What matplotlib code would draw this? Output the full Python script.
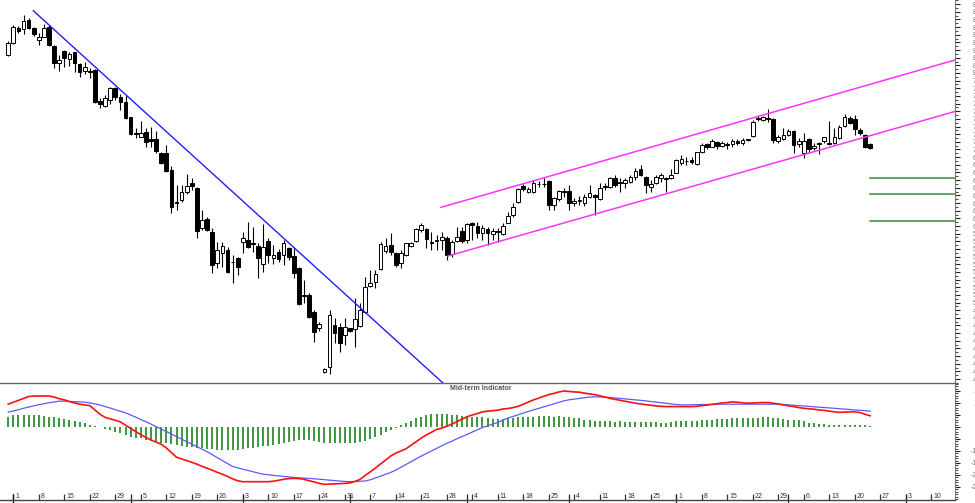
import numpy as np
import pandas as pd
import matplotlib
matplotlib.use('Agg')
import matplotlib.pyplot as plt
import matplotlib.transforms as mtransforms
from matplotlib.ticker import MultipleLocator

plt.rcParams['font.family'] = ['Liberation Sans', 'DejaVu Sans']

# trading days shown on the axis (candles use the first 170)
dates = pd.bdate_range('2018-09-28', '2019-06-14')

opens = [82.35, 83.88, 85.88, 85.71, 86.93, 85.84, 84.27, 84.74, 85.97, 83.57,
         81.35, 82.87, 81.83, 82.70, 81.14, 80.30, 80.26, 80.39, 76.34, 75.69,
         76.47, 78.00, 76.90, 76.25, 74.21, 72.20, 71.67, 72.33, 71.33, 71.37,
         69.58, 69.58, 67.32, 63.14, 63.40, 64.49, 65.58, 65.01, 59.70, 60.96,
         59.26, 55.21, 56.43, 56.87, 55.27, 55.78, 57.95, 58.17, 57.82, 57.39,
         55.04, 58.04, 55.78, 56.64, 56.21, 57.09, 56.02, 54.47, 50.92, 50.98,
         48.80, 46.63, 40.96, 41.61, 47.06, 46.84, 45.76, 46.63, 46.50, 46.93,
         48.80, 52.20, 52.72, 54.34, 56.77, 57.52, 56.51, 55.13, 56.21, 57.43,
         58.08, 59.48, 59.57, 57.95, 57.98, 58.17, 58.39, 56.34, 58.08, 59.39,
         58.17, 60.36, 60.00, 59.13, 59.61, 58.96, 59.22, 58.96, 60.43, 61.44,
         63.18, 65.23, 64.45, 64.49, 65.45, 65.53, 65.92, 62.75, 63.49, 64.45,
         64.62, 62.97, 63.27, 62.97, 63.83, 64.05, 63.53, 65.10, 65.14, 66.24,
         65.79, 65.58, 65.79, 66.37, 67.41, 66.45, 65.06, 65.58, 66.24, 66.18,
         66.24, 66.97, 68.28, 68.46, 68.63, 68.11, 69.71, 70.68, 70.37, 71.02,
         70.46, 70.59, 70.72, 71.15, 70.81, 71.28, 71.77, 74.03, 73.86, 74.12,
         73.95, 71.15, 71.33, 71.90, 72.46, 70.68, 69.50, 71.33, 70.16, 70.76,
         71.15, 70.85, 70.89, 71.46, 73.07, 74.08, 73.95, 72.55, 71.90, 70.72]

highs = [84.22, 86.27, 86.14, 87.58, 87.15, 85.97, 85.19, 86.40, 86.27, 83.66,
         82.35, 83.01, 82.78, 82.78, 81.27, 81.48, 80.61, 80.48, 76.69, 77.12,
         78.13, 78.21, 77.25, 77.12, 74.29, 72.77, 73.76, 72.77, 72.98, 72.46,
         69.71, 70.59, 67.84, 65.36, 65.36, 66.76, 66.24, 65.14, 62.09, 61.14,
         59.70, 57.95, 57.95, 57.22, 56.21, 55.99, 59.26, 60.56, 59.91, 57.82,
         60.26, 58.39, 57.52, 56.96, 58.17, 57.30, 57.30, 54.68, 52.94, 51.21,
         49.02, 47.49, 41.40, 49.02, 47.94, 47.29, 47.94, 46.71, 50.55, 49.90,
         53.30, 54.25, 54.25, 57.95, 58.39, 59.13, 56.64, 56.87, 57.82, 57.95,
         59.70, 60.36, 59.70, 59.26, 58.83, 59.26, 58.70, 58.17, 59.91, 59.91,
         60.43, 60.56, 60.56, 60.13, 59.91, 59.70, 59.70, 60.36, 61.87, 62.97,
         64.93, 65.49, 65.06, 66.01, 65.92, 66.24, 66.01, 63.83, 64.71, 64.93,
         65.36, 63.62, 63.92, 64.18, 65.36, 64.18, 65.58, 65.58, 66.37, 66.67,
         66.24, 66.24, 66.67, 67.54, 67.97, 66.54, 66.01, 66.67, 66.89, 66.45,
         67.41, 68.72, 69.28, 68.98, 68.98, 69.71, 70.81, 70.81, 71.33, 71.15,
         71.15, 71.02, 71.33, 71.33, 71.46, 71.40, 73.86, 74.38, 74.38, 75.25,
         74.08, 71.90, 72.77, 72.64, 72.55, 71.46, 72.12, 71.46, 70.81, 71.02,
         71.67, 73.76, 72.77, 73.20, 74.64, 74.38, 74.51, 72.77, 72.03, 70.81]

lows = [82.22, 83.75, 85.23, 85.06, 85.71, 84.84, 83.62, 84.67, 83.53, 80.69,
        80.26, 80.82, 80.91, 80.17, 79.52, 79.87, 79.31, 76.04, 75.39, 75.52,
        75.95, 76.47, 75.16, 73.95, 71.90, 71.46, 71.60, 70.37, 70.37, 69.50,
        68.11, 67.10, 61.66, 62.09, 63.18, 64.18, 64.71, 58.39, 59.48, 59.39,
        53.82, 54.47, 54.68, 53.82, 52.59, 53.60, 56.51, 57.09, 56.64, 53.17,
        54.03, 55.13, 55.04, 55.34, 54.90, 55.56, 53.17, 49.68, 49.90, 47.94,
        44.88, 46.32, 40.83, 40.66, 44.67, 43.57, 44.45, 46.19, 44.23, 46.76,
        48.67, 51.99, 51.86, 54.25, 56.43, 56.21, 54.68, 54.55, 56.08, 57.30,
        57.95, 59.26, 57.09, 56.87, 56.87, 56.87, 55.56, 55.99, 57.95, 57.82,
        57.82, 58.17, 58.39, 58.17, 57.52, 58.17, 57.95, 58.83, 60.36, 61.22,
        62.97, 64.62, 64.28, 64.28, 65.14, 65.14, 62.09, 62.09, 63.31, 63.83,
        62.09, 62.62, 62.75, 62.68, 63.62, 61.44, 63.40, 64.71, 65.01, 65.14,
        64.49, 64.93, 65.58, 66.01, 66.54, 64.35, 64.49, 65.49, 65.79, 64.49,
        66.11, 66.89, 67.97, 67.97, 68.11, 67.97, 69.58, 70.03, 70.29, 70.03,
        70.29, 70.03, 70.37, 70.59, 70.59, 71.15, 71.67, 73.76, 73.76, 73.63,
        70.81, 70.81, 71.24, 71.77, 69.58, 70.37, 68.85, 69.50, 69.93, 69.41,
        70.81, 70.59, 70.72, 71.33, 72.98, 73.33, 71.90, 71.90, 70.16, 70.03]

closes = [83.88, 85.97, 85.53, 86.83, 85.88, 85.06, 84.67, 85.84, 83.66, 81.35,
          81.66, 81.92, 82.44, 81.27, 80.17, 80.82, 80.19, 76.25, 75.95, 76.69,
          78.00, 76.90, 76.21, 74.08, 72.03, 72.03, 72.20, 71.02, 71.11, 69.80,
          68.20, 67.23, 62.52, 63.01, 64.49, 65.23, 65.23, 59.39, 60.79, 59.48,
          54.90, 56.87, 57.39, 54.03, 55.36, 54.68, 58.39, 57.30, 57.65, 55.78,
          57.22, 56.21, 56.21, 55.65, 57.74, 55.91, 53.82, 49.81, 50.79, 48.15,
          46.19, 47.15, 41.27, 48.37, 45.98, 44.75, 46.76, 46.32, 47.85, 49.02,
          51.99, 52.51, 53.73, 57.65, 57.43, 56.64, 54.90, 56.43, 57.74, 57.74,
          59.57, 60.13, 58.26, 57.74, 58.17, 58.53, 56.21, 57.95, 58.60, 58.08,
          60.26, 60.13, 59.13, 59.70, 59.05, 59.39, 59.32, 60.04, 61.31, 62.45,
          64.80, 64.80, 64.80, 65.58, 65.53, 65.45, 62.75, 63.62, 64.62, 64.62,
          62.97, 63.31, 63.36, 63.79, 64.28, 63.75, 64.93, 65.19, 66.24, 65.36,
          65.58, 66.01, 66.45, 67.23, 66.67, 65.36, 65.49, 66.37, 66.67, 66.28,
          66.67, 68.63, 68.72, 68.54, 68.41, 69.63, 70.59, 70.29, 71.11, 70.46,
          70.89, 70.68, 71.15, 70.89, 71.24, 71.37, 73.63, 74.12, 74.21, 74.03,
          71.24, 71.60, 71.90, 72.46, 70.59, 71.15, 71.15, 70.03, 70.46, 70.85,
          71.60, 70.76, 71.60, 72.98, 74.21, 73.50, 72.64, 72.12, 70.37, 70.16]

# mid-term indicator: fast line (red), slow line (blue), histogram (green)
fast_line = [9.5, 10.3, 11.1, 11.9, 12.7, 12.9, 12.9, 12.9, 12.9, 12.5,
             11.8, 11.3, 10.6, 10.0, 9.5, 9.2, 8.9, 7.1, 5.3, 4.0,
             3.4, 2.8, 2.1, 0.75, -0.6, -1.9, -3.2, -4.4, -5.4, -6.3,
             -7.2, -8.7, -10.7, -12.6, -13.3, -14.0, -14.7, -15.5, -16.4, -17.2,
             -18.0, -18.9, -19.7, -20.6, -21.6, -22.4, -22.8, -22.8, -22.8, -22.8,
             -22.8, -22.8, -22.6, -22.2, -21.8, -21.5, -21.4, -21.5, -21.8, -22.4,
             -22.9, -23.5, -23.9, -23.8, -23.7, -23.6, -23.5, -23.3, -22.7, -21.8,
             -20.2, -18.7, -17.1, -15.4, -13.8, -12.1, -10.9, -10.0, -9.1, -7.6,
             -6.1, -4.6, -3.3, -2.2, -1.0, -0.5, 0.3, 1.2, 2.2, 3.3,
             4.3, 5.0, 5.6, 6.3, 6.6, 6.8, 7.0, 7.5, 7.7, 8.1,
             8.6, 9.5, 10.4, 11.3, 12.0, 12.8, 13.5, 14.0, 14.6, 15.0,
             14.8, 14.6, 14.5, 14.1, 13.8, 13.5, 13.0, 12.5, 11.9, 11.5,
             11.1, 10.7, 10.3, 9.9, 9.6, 9.3, 9.05, 8.8, 8.6, 8.5,
             8.5, 8.5, 8.5, 8.5, 8.5, 8.6, 8.9, 9.1, 9.4, 9.7,
             10.0, 10.2, 10.5, 10.3, 10.1, 9.9, 10.0, 10.1, 10.2, 10.2,
             9.9, 9.6, 9.2, 8.8, 8.5, 8.1, 7.8, 7.6, 7.4, 7.1,
             6.9, 6.6, 6.3, 6.1, 6.2, 6.3, 6.3, 6.0, 5.3, 4.7]

slow_line = [6.2, 6.7, 7.2, 7.8, 8.3, 8.8, 9.3, 9.7, 10.1, 10.4,
             10.8, 10.75, 10.65, 10.55, 10.45, 10.35, 10.05, 9.6, 9.17, 8.5,
             7.9, 7.2, 6.55, 5.9, 5.0, 4.1, 3.1, 2.2, 1.2, 0.2,
             -0.85, -1.9, -2.95, -4.0, -5.05, -6.1, -7.15, -8.2, -9.25, -10.3,
             -11.55, -12.8, -14.0, -15.2, -16.45, -17.0, -17.6, -18.1, -18.65, -19.2,
             -19.7, -19.9, -20.15, -20.35, -20.6, -20.8, -21.0, -21.15, -21.3, -21.45,
             -21.6, -21.75, -21.95, -22.15, -22.35, -22.5, -22.7, -22.75, -22.7, -22.6,
             -22.5, -22.0, -21.25, -20.5, -19.7, -18.95, -17.95, -16.8, -15.6, -14.45,
             -13.25, -12.1, -11.05, -9.95, -8.9, -7.85, -6.8, -5.9, -4.9, -4.0,
             -3.05, -2.1, -1.1, -0.2, 0.5, 1.2, 1.9, 2.8, 3.75, 4.4,
             5.1, 5.8, 6.5, 7.15, 7.75, 8.4, 9.0, 9.65, 10.3, 10.9,
             11.35, 11.6, 11.9, 12.2, 12.45, 12.6, 12.5, 12.4, 12.3, 12.1,
             11.9, 11.7, 11.5, 11.3, 11.1, 10.9, 10.6, 10.4, 10.1, 9.9,
             9.6, 9.35, 9.2, 9.2, 9.25, 9.3, 9.35, 9.4, 9.45, 9.5,
             9.5, 9.5, 9.5, 9.5, 9.5, 9.5, 9.5, 9.5, 9.5, 9.5,
             9.5, 9.5, 9.35, 9.2, 9.05, 8.9, 8.75, 8.6, 8.4, 8.25,
             8.1, 7.95, 7.8, 7.6, 7.45, 7.3, 7.1, 6.95, 6.8, 6.6]

histogram = [4.3, 5.0, 5.0, 5.0, 5.0, 5.0, 4.9, 4.6, 4.3, 4.0,
             3.6, 3.3, 2.9, 2.5, 2.0, 1.5, 0.8, 0.3, -0.2, -1.0,
             -1.25, -1.9, -2.6, -3.3, -4.0, -4.4, -4.7, -5.4, -5.8, -6.1,
             -6.5, -6.8, -7.1, -7.4, -7.8, -8.2, -8.5, -8.6, -8.9, -9.2,
             -9.3, -9.4, -9.6, -9.6, -9.6, -9.4, -9.2, -8.6, -8.6, -8.3,
             -8.1, -7.9, -7.5, -7.1, -6.5, -6.1, -5.8, -5.6, -5.4, -5.4,
             -5.8, -6.1, -6.5, -6.8, -6.8, -6.8, -6.8, -6.8, -6.7, -6.4,
             -5.8, -5.0, -4.3, -3.3, -2.2, -1.25, -0.55, 0.8, 1.5, 2.5,
             3.6, 4.3, 4.9, 5.3, 5.4, 5.4, 5.3, 5.0, 4.9, 4.7,
             4.7, 4.3, 4.0, 4.1, 3.6, 3.4, 3.2, 3.3, 3.6, 3.9,
             4.0, 4.2, 4.3, 4.3, 4.6, 4.7, 4.7, 4.3, 4.4, 4.2,
             4.0, 3.9, 3.6, 3.1, 2.8, 2.5, 2.5, 2.4, 2.4, 2.2,
             2.4, 2.2, 2.1, 2.1, 2.1, 2.1, 2.1, 1.9, 1.8, 1.8,
             2.1, 2.4, 2.4, 2.4, 2.5, 2.6, 2.8, 2.9, 3.1, 3.3,
             3.5, 3.5, 3.6, 3.6, 3.75, 3.6, 3.6, 3.9, 4.3, 4.0,
             3.9, 3.6, 3.3, 3.1, 2.9, 2.8, 2.5, 1.8, 1.7, 1.4,
             1.1, 0.97, 0.8, 0.7, 0.7, 0.7, 0.7, 0.7, 0.7, 0.4]

# drawn lines: (start day index, start price, end day index, end price)
downtrend = [4.92, 88.14, 85.25, 39.48]
channel_top = [84.86, 62.44, 185.65, 81.70]
channel_bottom = [86.24, 56.08, 185.65, 74.97]
target_levels = [66.24, 64.14, 60.66]
target_start = 169.0

month_names = {10: 'October', 11: 'November', 12: 'December', 1: '2019',
               2: 'February', 3: 'March', 4: 'April', 5: 'May', 6: 'June'}

n = len(closes)
idx = np.arange(n)
o = np.array(opens); c = np.array(closes)
h = np.array(highs); l = np.array(lows)

fig = plt.figure(figsize=(9.75, 5.03), dpi=100)
W = 955 / 975
ax = fig.add_axes([0, 1 - 383 / 503, W, 383 / 503])
ax2 = fig.add_axes([0, 3 / 503, W, 117 / 503])

xmin, xmax = -1.61, 185.65

# ---- price pane ----
ax.vlines(idx, l, h, color='black', lw=0.8, zorder=2)
up = c >= o
body_low = np.minimum(o, c)
body_h = np.maximum(np.abs(c - o), 0.08)
ax.bar(idx[up], body_h[up], bottom=body_low[up], width=0.72,
       color='white', edgecolor='black', lw=0.7, zorder=3)
ax.bar(idx[~up], body_h[~up], bottom=body_low[~up], width=0.72,
       color='black', edgecolor='black', lw=0.7, zorder=3)

ax.plot(downtrend[0::2], downtrend[1::2], color='#2020ff', lw=1.0, zorder=4)
ax.plot(channel_top[0::2], channel_top[1::2], color='#ff33ff', lw=1.1, zorder=4)
ax.plot(channel_bottom[0::2], channel_bottom[1::2], color='#ff33ff', lw=1.1, zorder=4)
for lvl in target_levels:
    ax.plot([target_start, xmax], [lvl, lvl], color='#2e922e', lw=1.1, zorder=4)

ax.set_xlim(xmin, xmax)
ax.set_ylim(39.48, 89.54)
for s in ['top', 'left', 'bottom']:
    ax.spines[s].set_visible(False)
ax.spines['right'].set_color('#777777')
ax.spines['right'].set_linewidth(0.8)
ax.set_xticks([])
ax.yaxis.tick_right()
ax.yaxis.set_minor_locator(MultipleLocator(0.5))
ax.set_yticks(np.arange(40, 90))
ax.set_yticklabels([str(v) for v in range(40, 90)])
ax.tick_params(axis='y', which='major', length=3.6, width=0.8, color='#222222',
               labelsize=5, labelcolor='#777777', pad=15)
ax.tick_params(axis='y', which='minor', length=1.8, width=0.6, color='#222222')
plt.setp(ax.get_yticklabels(), ha='right')

# ---- indicator pane ----
ax2.vlines(idx, 0, histogram, color='#2f8f2f', lw=1.3, zorder=2)
ax2.plot(idx, slow_line, color='#5a5aff', lw=0.9, zorder=3)
ax2.plot(idx, fast_line, color='#ff1010', lw=1.2, zorder=4)
ax2.text(0.503, 0.955, 'Mid-term Indicator', transform=ax2.transAxes,
         ha='center', va='center', fontsize=5, fontweight='bold', color='#555555')

ax2.set_xlim(xmin, xmax)
ax2.set_ylim(-30.42, 18.33)
ax2.spines['left'].set_visible(False)
ax2.spines['top'].set_color('#666666')
ax2.spines['top'].set_linewidth(1.0)
ax2.spines['bottom'].set_color('#444444')
ax2.spines['bottom'].set_linewidth(1.0)
ax2.spines['right'].set_color('#777777')
ax2.spines['right'].set_linewidth(0.8)
ax2.yaxis.tick_right()
ax2.yaxis.set_minor_locator(MultipleLocator(1))
ax2.set_yticks(np.arange(-25, 20, 5))
ax2.set_yticklabels([str(v) for v in range(-25, 20, 5)])
ax2.tick_params(axis='y', which='major', length=3.6, width=0.8, color='#222222',
                labelsize=5, labelcolor='#777777', pad=15)
ax2.tick_params(axis='y', which='minor', length=1.8, width=0.6, color='#222222')
plt.setp(ax2.get_yticklabels(), ha='right')

# weekly date ticks (Mondays) with labels inside the pane
all_idx = np.arange(len(dates))
mondays = all_idx[dates.weekday == 0]
ax2.set_xticks(mondays)
ax2.tick_params(axis='x', which='major', direction='in', length=4.2, width=0.9,
                color='#333333', labelbottom=False)
trans = mtransforms.blended_transform_factory(ax2.transData, ax2.transAxes)
for m in mondays:
    ax2.text(m + 0.35, 0.03, str(dates[m].day), transform=trans, fontsize=5,
             color='#333333', ha='left', va='center')

# month separators and names below the axis line (mostly cut off by the edge)
first_of_month = [i for i in all_idx[1:] if dates[i].month != dates[i - 1].month]
first_of_month = [1] + first_of_month
ax2.vlines(first_of_month, -0.06, 0.05, transform=trans, color='#222222',
           lw=0.9, clip_on=False)
for m in first_of_month:
    ax2.text(m + 0.35, -0.022, month_names[dates[m].month], transform=trans,
             fontsize=5.5, color='#333333', ha='left', va='top', clip_on=False)

fig.savefig('out.png', dpi=100, facecolor='white')
